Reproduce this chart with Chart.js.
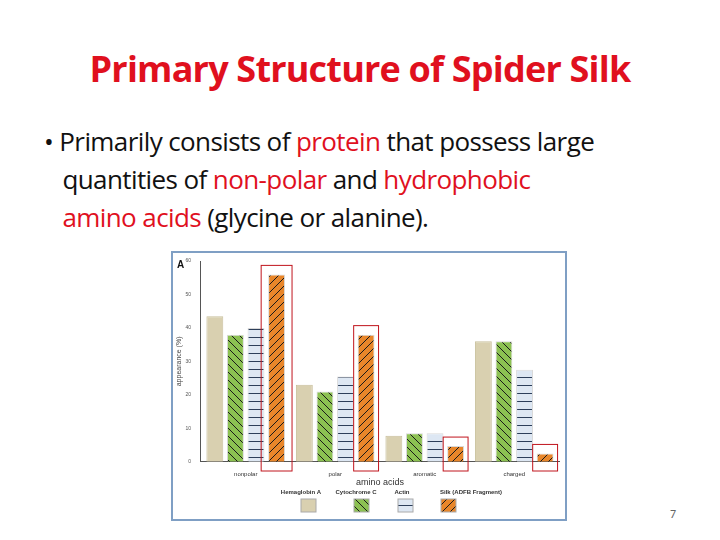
<!DOCTYPE html>
<html><head><meta charset="utf-8">
<script src="https://cdn.jsdelivr.net/npm/chart.js@4"></script>
<style>
body{margin:0;width:720px;height:540px;background:#fff;font-family:Calibri,Carlito,"Open Sans","Liberation Sans",sans-serif;position:relative;overflow:hidden}
h1{position:absolute;top:44px;left:0;width:720px;text-align:center;margin:0;color:#e0101e;font-size:36px;font-weight:bold;font-family:"Open Sans",sans-serif;letter-spacing:-0.8px}
.b{position:absolute;left:44px;top:122px;font-size:26px;line-height:38px;color:#111;width:680px;font-family:"Open Sans",sans-serif;letter-spacing:-0.6px}
.b span{color:#e0101e}
#frame{position:absolute;left:171px;top:251px;width:392px;height:266px;border:2px solid #7f9fc4}
.pg{position:absolute;right:44px;top:507px;font-size:12px;color:#666}
</style></head><body>
<h1>Primary Structure of Spider Silk</h1>
<div class="b">• Primarily consists of <span>protein</span> that possess large<br>&nbsp;&nbsp;&nbsp;quantities of <span>non-polar</span> and <span>hydrophobic</span><br>&nbsp;&nbsp;&nbsp;<span>amino acids</span> (glycine or alanine).</div>
<div id="frame"><canvas id="c" width="392" height="266"></canvas></div>
<div class="pg">7</div>
<script>
const categories = ["nonpolar", "polar", "aromatic", "charged"];
const seriesNames = ["Hemaglobin A", "Cytochrome C", "Actin", "Silk (ADFB Fragment)"];
const hemoglobin = [43.5, 23, 7.8, 36];
const cytochrome = [38, 21, 8.5, 36];
const actin = [40, 25.5, 8.5, 27.5];
const silk = [56, 38, 4.7, 2.5];
const yTicks = [0, 10, 20, 30, 40, 50, 60];

function pattern(bg, kind) {
  const p = document.createElement('canvas');
  p.width = 8; p.height = 8;
  const g = p.getContext('2d');
  g.fillStyle = bg; g.fillRect(0, 0, 8, 8);
  g.strokeStyle = kind === 'h' ? '#2c3e5a' : '#1a1a1a';
  g.lineWidth = 1;
  g.beginPath();
  if (kind === 'h') { g.moveTo(0, 4.5); g.lineTo(8, 4.5); }
  else if (kind === 'b') { g.moveTo(0, 0); g.lineTo(8, 8); g.moveTo(-4, 4); g.lineTo(4, 12); g.moveTo(4, -4); g.lineTo(12, 4); }
  else if (kind === 'f') { g.moveTo(0, 8); g.lineTo(8, 0); g.moveTo(-4, 4); g.lineTo(4, -4); g.moveTo(4, 12); g.lineTo(12, 4); }
  g.stroke();
  return g.createPattern(p, 'repeat');
}
const ctx = document.getElementById('c').getContext('2d');
const fills = ['#d9d0b0', pattern('#8cc152', 'b'), pattern('#dde7f3', 'h'), pattern('#e8862a', 'f')];

const highlight = {
  id: 'highlight',
  afterDatasetsDraw(chart) {
    const c = chart.ctx, meta = chart.getDatasetMeta(3), bottom = chart.scales.x.bottom - 8;
    c.save(); c.strokeStyle = '#c0141c'; c.lineWidth = 1;
    meta.data.forEach((bar, i) => {
      const pad = i === 0 ? 7 : 4;
      c.strokeRect(bar.x - bar.width / 2 - pad, bar.y - 9, bar.width + 2 * pad, bottom - bar.y + 9);
    });
    c.restore();
  }
};
const legend = {
  id: 'legendBelow',
  afterDraw(chart) {
    const c = chart.ctx, a = chart.chartArea;
    c.save();
    c.fillStyle = '#333'; c.font = '9px "Liberation Sans"'; c.textAlign = 'center';
    c.fillText('amino acids', (a.left + a.right) / 2, a.bottom + 23);
    c.font = 'bold 6px "Liberation Sans"';
    const tx = [128, 183, 229, 298];
    const sx = [135, 188, 232, 275];
    seriesNames.forEach((n, i) => {
      c.fillStyle = '#333'; c.fillText(n, tx[i], 241);
      c.fillStyle = fills[i]; c.fillRect(sx[i] - 7, 246, 15, 13);
      c.strokeStyle = '#aaa'; c.strokeRect(sx[i] - 7, 246, 15, 13);
    });
    c.font = 'bold 10px "Liberation Sans"'; c.fillStyle = '#111'; c.textAlign = 'left';
    c.fillText('A', 4, 15);
    c.restore();
  }
};

new Chart(ctx, {
  type: 'bar',
  data: {
    labels: categories,
    datasets: [hemoglobin, cytochrome, actin, silk].map((d, i) => ({
      label: seriesNames[i], data: d, backgroundColor: fills[i],
      borderColor: i === 0 ? '#c8bf9c' : 'rgba(0,0,0,0.15)', borderWidth: 1,
      categoryPercentage: 0.92, barPercentage: 0.82
    }))
  },
  options: {
    responsive: false, animation: false,
    layout: { padding: { top: 8, right: 6, bottom: 40, left: 2 } },
    plugins: { legend: { display: false }, tooltip: { enabled: false } },
    scales: {
      y: {
        min: 0, max: 60,
        afterBuildTicks: s => { s.ticks = yTicks.map(v => ({ value: v })); },
        grid: { display: false }, border: { color: '#555' },
        ticks: { font: { size: 5 }, color: '#555', padding: 2 },
        title: { display: true, text: 'appearance (%)', font: { size: 7 }, color: '#444', padding: 0 }
      },
      x: {
        grid: { display: false }, border: { color: '#555' },
        ticks: { font: { size: 6 }, color: '#333', padding: 1 }
      }
    }
  },
  plugins: [highlight, legend]
});
</script>
</body></html>
